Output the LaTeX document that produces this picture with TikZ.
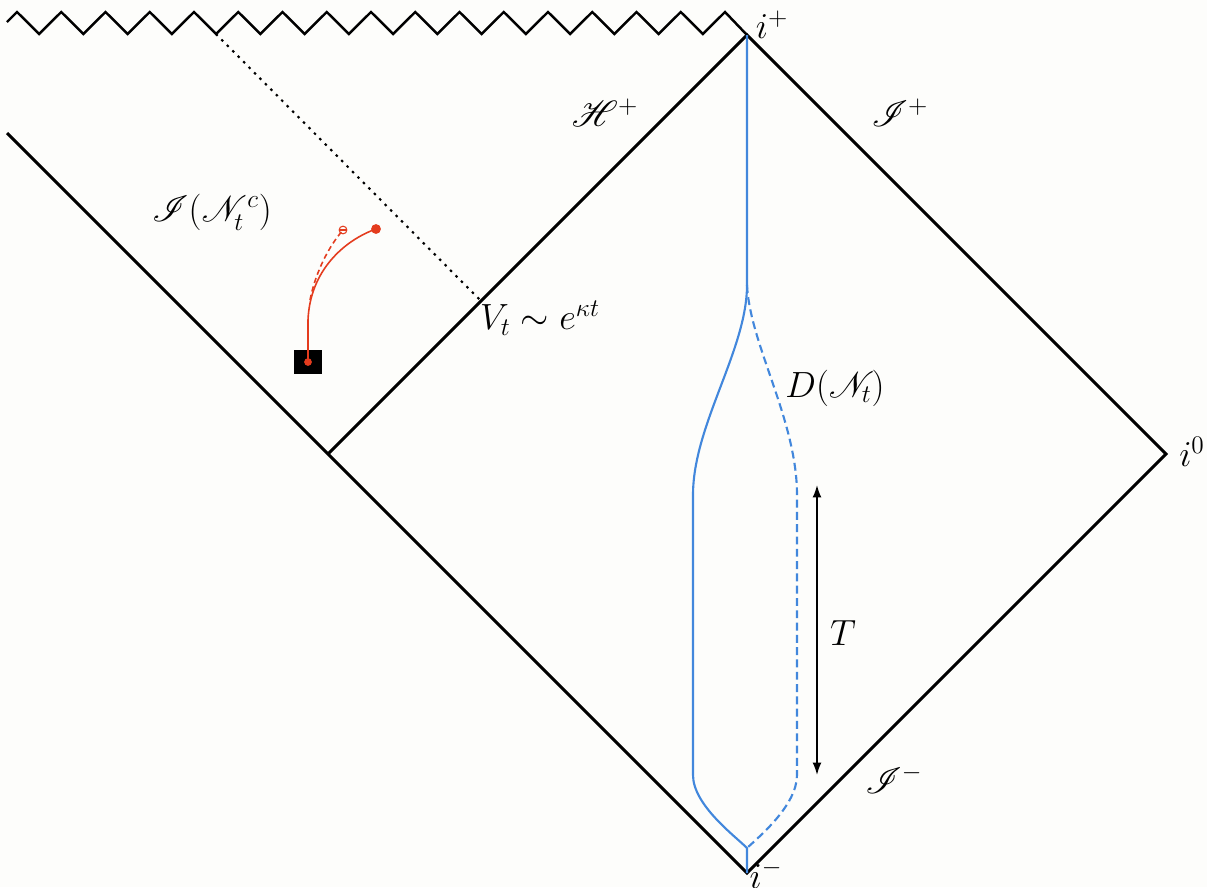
\documentclass[tikz,border=0pt]{standalone}
\usepackage{amsmath,amssymb,mathrsfs}
\usetikzlibrary{arrows.meta,calc}
\usepackage{xcolor}
\definecolor{worldblue}{RGB}{66,135,220}
\definecolor{probered}{RGB}{228,60,30}
\definecolor{paper}{RGB}{253,253,251}
\tikzset{
  bnd/.style={line width=1.7pt,line join=miter},
  sing/.style={line width=1.4pt,line join=miter},
  nullray/.style={line width=1.2pt,dash pattern=on 1.4pt off 3pt},
  world/.style={worldblue,line width=1.2pt},
  worlddash/.style={world,dash pattern=on 4.5pt off 2.5pt},
  probe/.style={probered,line width=0.9pt},
  lbl/.style={font=\fontsize{20}{24}\selectfont,inner sep=1pt},
}

\begin{document}
\begin{tikzpicture}[x=0.02cm,y=-0.02cm]
\fill[paper] (0,0) rectangle (1207,887);
\useasboundingbox (0,0) rectangle (1207,887);

% corners
\coordinate (ip) at (747,35);
\coordinate (im) at (747,873);
\coordinate (izero) at (1166,454);
\coordinate (hc) at (328,454);
\coordinate (ltop) at (7,133);
\coordinate (zz) at (216,34);
\coordinate (vt) at (481,301);

% singularity
\draw[sing] (7,22) \foreach \j in {0,...,15} { -- ({17+44.25*\j},12) -- ({39.125+44.25*\j},34) } -- (725,12) -- (ip);

% horizon and scri
\draw[bnd] (hc) -- (ip) -- (izero) -- (im) -- (ltop);
\draw[nullray] (zz) -- (vt);

% the tube
\coordinate (tubetop) at (747,285);
\coordinate (tubebot) at (747,848);
\draw[world] (ip) -- (tubetop) .. controls (747,350) and (693,425) .. (693,495)
  -- (693,775) .. controls (693,805) and (735,836) .. (tubebot) -- (im);
\draw[worlddash] (tubetop) .. controls (750,345) and (797,420) .. (797,495)
  -- (797,775) .. controls (797,805) and (760,836) .. (tubebot);

% T arrow
\coordinate (ttop) at (817,485);
\coordinate (tbot) at (817,775);
\draw[{Latex[length=7pt,width=5pt]}-{Latex[length=7pt,width=5pt]},line width=0.9pt] (ttop) -- (tbot);

% probe
\node[fill=black,minimum width=0.56cm,minimum height=0.48cm,inner sep=0pt] (box) at (308,362) {};
\coordinate (pend) at (376,229);
\coordinate (pghost) at (343,230);
\draw[probe] (box.center) -- (308,320) .. controls (310,270) and (345,240) .. (pend);
\draw[probe,dash pattern=on 3pt off 2pt] (310,300) .. controls (316,270) and (330,245) .. (pghost);
\fill[probered] (box.center) circle (2.2pt);
\fill[probered] (pend) circle (2.8pt);
\draw[probered,line width=0.6pt] (pghost) circle (2.2pt);
\draw[probered,line width=0.6pt] ($(pghost)+(-1.5pt,0)$) -- ($(pghost)+(1.5pt,0)$);

% labels
\node[lbl] (lip) at (772,25) {$i^+$};
\node[lbl] (lizero) at (1192,452) {$i^0$};
\node[lbl] (lim) at (766,874) {$i^-$};
\node[lbl] (lhp) at (605,113) {$\mathscr{H}^+$};
\node[lbl] (lscrp) at (900,113) {$\mathscr{I}^+$};
\node[lbl] (lscrm) at (894,779) {$\mathscr{I}^-$};
\node[lbl] (lint) at (212,212) {$\mathscr{I}(\mathscr{N}^c_t)$};
\node[lbl] (lvt) at (540,318) {$V_t\sim e^{\kappa t}$};
\node[lbl] (ldn) at (835,388) {$D(\mathscr{N}_t)$};
\node[lbl] (lT) at (843,633) {$T$};

\end{tikzpicture}
\end{document}
